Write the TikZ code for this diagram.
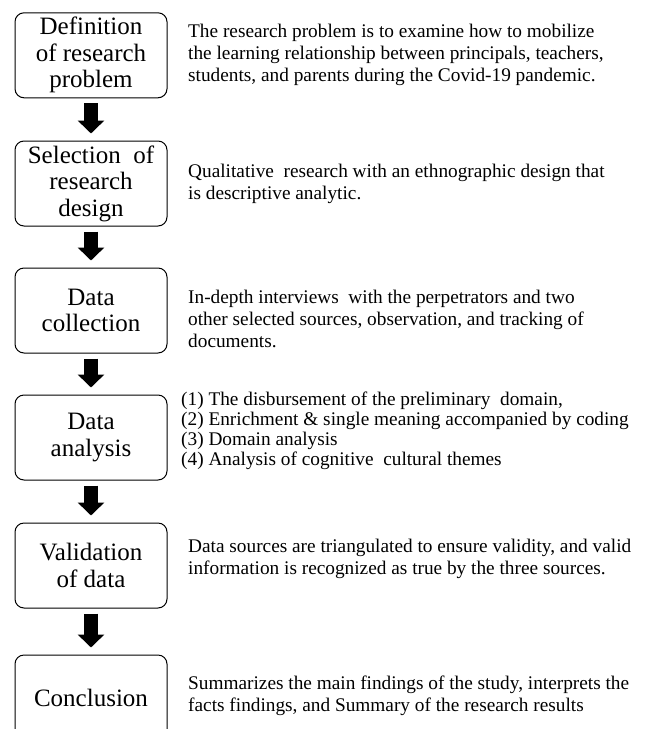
\documentclass[tikz,border=0pt]{standalone}
\usepackage{fontspec}
\setmainfont{Liberation Serif}
\usetikzlibrary{arrows.meta}
\tikzset{
  stage/.style={draw, line width=1pt, rounded corners=9pt, minimum width=152pt, minimum height=85pt, inner sep=2pt, align=center, font=\fontsize{25}{26.5}\selectfont},
  desc/.style={anchor=west, align=left, inner sep=0pt, font=\fontsize{19.3}{22}\selectfont},
  listdesc/.style={desc, font=\fontsize{19.3}{20}\selectfont},
  bigarrow/.style={line width=14pt, -{Triangle[width=26pt,length=13pt]}, shorten <=5pt, shorten >=7pt}
}
\begin{document}
\begin{tikzpicture}[x=1pt,y=1pt]
\useasboundingbox (0,0) rectangle (653,-729);
\clip (0,0) rectangle (653,-729);
\node[stage] (s1) at (91,-55.3) {Definition\\of research\\problem};
\node[stage] (s2) at (91,-183.5) {Selection\ \ of\\research\\design};
\node[stage] (s3) at (91,-310.5) {Data\\collection};
\node[stage] (s4) at (91,-437.5) {Data\\analysis};
\node[stage] (s5) at (91,-565.5) {Validation\\of data};
\node[stage] (s6) at (91,-697.5) {Conclusion};
\foreach \a/\b in {s1/s2,s2/s3,s3/s4,s4/s5,s5/s6}
  \draw[bigarrow] (\a) -- (\b);
\node[desc] (d1) at (188,-55) {The research problem is to examine how to mobilize\\the learning relationship between principals, teachers,\\students, and parents during the Covid-19 pandemic.};
\node[desc] (d2) at (188,-183.5) {Qualitative\ \ research with an ethnographic design that\\is descriptive analytic.};
\node[desc] (d3) at (188,-318.5) {In-depth interviews\ \ with the perpetrators and two\\other selected sources, observation, and tracking of\\documents.};
\node[listdesc] (d4) at (181,-430.5) {(1)\ The disbursement of the preliminary\ \ domain,\\(2)\ Enrichment \& single meaning accompanied by coding\\(3)\ Domain analysis\\(4)\ Analysis of cognitive\ \ cultural themes};
\node[desc] (d5) at (188,-559) {Data sources are triangulated to ensure validity, and valid\\information is recognized as true by the three sources.};
\node[desc] (d6) at (188,-696) {Summarizes the main findings of the study, interprets the\\facts findings, and Summary of the research results};
\end{tikzpicture}
\end{document}
